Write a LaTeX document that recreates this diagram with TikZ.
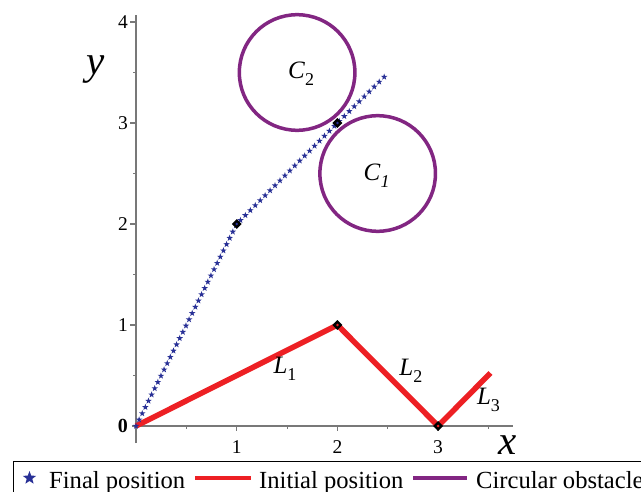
\documentclass[tikz,border=0pt]{standalone}
\usepackage{fontspec}
\setmainfont{Liberation Serif}
\usetikzlibrary{shapes.geometric,decorations.markings}
\definecolor{pathred}{RGB}{237,32,36}
\definecolor{starblue}{RGB}{40,48,150}
\definecolor{obspurple}{RGB}{130,38,130}
\definecolor{axisgray}{RGB}{120,120,120}
\newcommand{\mysub}[1]{\raisebox{-0.28em}{\fontsize{18}{18}\selectfont #1}}
\tikzset{
  axisline/.style={axisgray, line width=1.4pt},
  minortick/.style={axisgray, line width=1pt},
  ticklab/.style={font=\fontsize{19.5}{19.5}\selectfont, inner sep=0pt},
  axislab/.style={font=\fontsize{41}{41}\selectfont\itshape, inner sep=0pt},
  startick/.style={star, star points=5, star point ratio=2.5, fill=starblue, draw=none, minimum size=6.8pt, inner sep=0pt},
  joint/.style={diamond, fill=black, minimum size=10pt, inner sep=0pt},
  jdot/.style={circle, minimum size=2.8pt, inner sep=0pt},
  armred/.style={pathred, line width=5.5pt},
  obstacle/.style={circle, draw=obspurple, line width=3.5pt, minimum size=115.6pt, inner sep=0pt},
  lbl/.style={font=\fontsize{25}{25}\selectfont, inner sep=0pt},
  legtext/.style={font=\fontsize{24.6}{25}\selectfont, inner sep=0pt, anchor=base west},
  legline/.style={line width=3.4pt},
}
\begin{document}
\begin{tikzpicture}[x=1pt,y=-1pt]
\useasboundingbox (0,0) rectangle (641,492);
\fill[white] (0,0) rectangle (641,492);
\begin{scope}[shift={(136,426)}, x=100.7pt, y=101pt]
  % axes
  \coordinate (xa0) at (-0.04,0);
  \coordinate (xa1) at (3.744,0);
  \coordinate (ya0) at (0,-0.17);
  \coordinate (ya1) at (0,4.07);
  \draw[axisline] (xa0) -- (xa1);
  \draw[axisline] (ya0) -- (ya1);
  \foreach \i in {1,2,3} {
    \draw[axisline] (\i,0) -- ++(0,-5pt);
    \node[ticklab] (xl\i) at ([yshift=-21pt]\i,0) {\i};
  }
  \foreach \i in {0.5,1.5,2.5,3.5} {
    \draw[minortick] (\i,0) -- ++(0,-3pt);
    \draw[minortick] (0,\i) -- ++(-3pt,0);
  }
  \foreach \i in {1,2,3,4} {
    \draw[axisline] (0,\i) -- ++(-6pt,0);
    \node[ticklab, anchor=east] (yl\i) at ([xshift=-8pt]0,\i) {\i};
  }
  \node[ticklab, anchor=east, font=\fontsize{20}{20}\selectfont\bfseries] (zero) at ([xshift=-8pt]0,0) {0};
  \node[axislab] (xlab) at (3.69,-0.19) {x};
  \node[axislab] (ylab) at (-0.40,3.53) {y};
  % obstacles
  \node[obstacle] (c2) at (1.6,3.5) {};
  \node[obstacle] (c1) at (2.4,2.5) {};
  \node[lbl] (c2lab) at (1.64,3.485) {\textit{C}\mysub{2}};
  \node[lbl] (c1lab) at (2.39,2.475) {\textit{C}\mysub{\textit{1}}};
  % initial position (red)
  \coordinate (r0) at (0,0);
  \coordinate (r1) at (2,1);
  \coordinate (r2) at (3,0);
  \coordinate (r3) at (3.52,0.525);
  \draw[armred] (r0) -- (r1) -- (r2) -- (r3);
  \node[lbl] (l1) at (1.48,0.565) {\textit{L}\mysub{1}};
  \node[lbl] (l2) at (2.73,0.545) {\textit{L}\mysub{2}};
  \node[lbl] (l3) at (3.50,0.257) {\textit{L}\mysub{3}};
  % final position (blue stars)
  \coordinate (b0) at (0,0);
  \coordinate (b1) at (1,2);
  \coordinate (b2) at (2,3);
  \coordinate (b3) at (2.51,3.5);
  \path[postaction={decorate}, decoration={markings,
      mark=between positions 0 and 1 step 7pt with {\node[startick] {};}}]
      (b0) -- (b1) -- (b2) -- (b3);
  % joints
  \node[joint] (jb1) at (b1) {};
  \node[joint] (jb2) at (b2) {};
  \node[joint] (jr1) at (r1) {};
  \node[joint] (jr2) at (r2) {};
  \node[jdot, fill=starblue] (db1) at (b1) {};
  \node[jdot, fill=starblue] (db2) at (b2) {};
  \node[jdot, fill=pathred] (dr1) at (r1) {};
  \node[jdot, fill=pathred] (dr2) at (r2) {};
\end{scope}
% legend
\begin{scope}
  \clip (0,0) rectangle (641,492);
  \draw[black, line width=0.9pt] (13,461) rectangle (700,530);
  \node[star, star points=5, star point ratio=2.4, fill=starblue, minimum size=14pt, inner sep=0pt] (legstar) at (29.5,478) {};
  \node[legtext] (legfinal) at (49,488) {Final position};
  \coordinate (lr0) at (195,478);
  \coordinate (lr1) at (251,478);
  \draw[legline, pathred] (lr0) -- (lr1);
  \node[legtext] (leginit) at (259,488) {Initial position};
  \coordinate (lp0) at (413,478);
  \coordinate (lp1) at (467,478);
  \draw[legline, obspurple] (lp0) -- (lp1);
  \node[legtext] (legobs) at (476,488) {Circular obstacle};
\end{scope}
\end{tikzpicture}
\end{document}
